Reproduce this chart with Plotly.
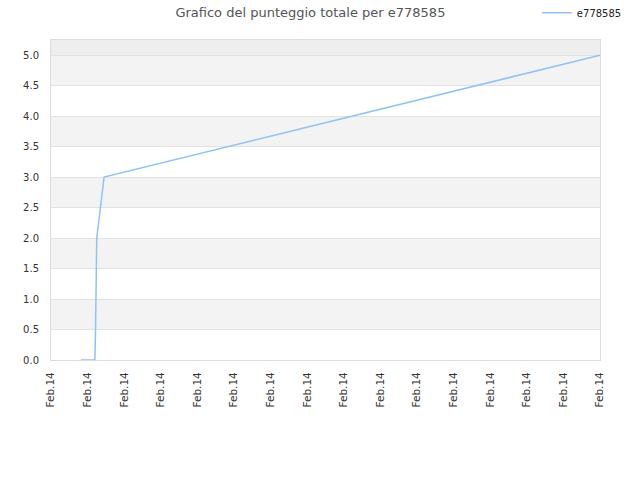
import plotly.graph_objects as go

# Data
timestamps = [
    "2024-02-14 08:49",
    "2024-02-14 09:12",
    "2024-02-14 09:13",
    "2024-02-14 09:14",
    "2024-02-14 09:15",
    "2024-02-14 09:27",
    "2024-02-14 23:00",
]
scores = [0.0, 0.0, 0.5, 1.5, 2.0, 3.0, 5.0]
series_name = "e778585"
title_text = "Grafico del punteggio totale per e778585"

x_range = ["2024-02-14 08:00", "2024-02-14 23:00"]
y_max = 5.25

font_family = "DejaVu Sans, Verdana, sans-serif"

fig = go.Figure(go.Scatter(
    x=timestamps,
    y=scores,
    mode="lines",
    name=series_name,
    line=dict(color="#92c1f4", width=1.5),
))

# Alternating horizontal bands like the original chart
shapes = []
for i in range(10):
    if i % 2 == 1:
        shapes.append(dict(
            type="rect", xref="paper", yref="y", x0=0, x1=1,
            y0=i * 0.5, y1=(i + 1) * 0.5,
            fillcolor="#f3f3f3", line=dict(width=0), layer="below",
        ))
shapes.append(dict(
    type="rect", xref="paper", yref="y", x0=0, x1=1,
    y0=5.0, y1=y_max,
    fillcolor="#eeeeee", line=dict(width=0), layer="below",
))

fig.update_layout(
    width=640,
    height=480,
    title=dict(
        text=title_text,
        x=0.485, xanchor="center", y=0.975, yanchor="middle",
        font=dict(family=font_family, size=13, color="#555555"),
    ),
    font=dict(family=font_family, size=10, color="#333333"),
    paper_bgcolor="white",
    plot_bgcolor="white",
    margin=dict(l=51, r=40, t=40, b=120, autoexpand=False),
    shapes=shapes,
    showlegend=True,
    legend=dict(
        x=0.885, y=1.085, xanchor="left", yanchor="middle",
        font=dict(family=font_family, size=10, color="#222222"),
        bgcolor="rgba(0,0,0,0)",
        itemwidth=30,
    ),
    xaxis=dict(
        type="date",
        range=x_range,
        dtick=3600000,
        tick0="2024-02-14 08:00",
        tickformat="%b.%d",
        tickangle=-90,
        showgrid=False,
        showline=True,
        linecolor="#dddddd",
        mirror=True,
        ticks="",
        ticklabelstandoff=7,
        zeroline=False,
        tickfont=dict(size=10.5, color="#333333"),
    ),
    yaxis=dict(
        range=[0, y_max],
        dtick=0.5,
        tick0=0,
        tickformat=".1f",
        showgrid=True,
        gridcolor="#e2e2e2",
        gridwidth=1,
        showline=True,
        linecolor="#dddddd",
        mirror=True,
        ticks="",
        ticklabelstandoff=9,
        zeroline=False,
        tickfont=dict(size=10, color="#333333"),
    ),
)

# drop the browser's default body margin so the figure sits at the window corner
fig.write_html(
    "out.html",
    config={"displayModeBar": False},
    post_script="document.body.style.margin = '0';",
)
